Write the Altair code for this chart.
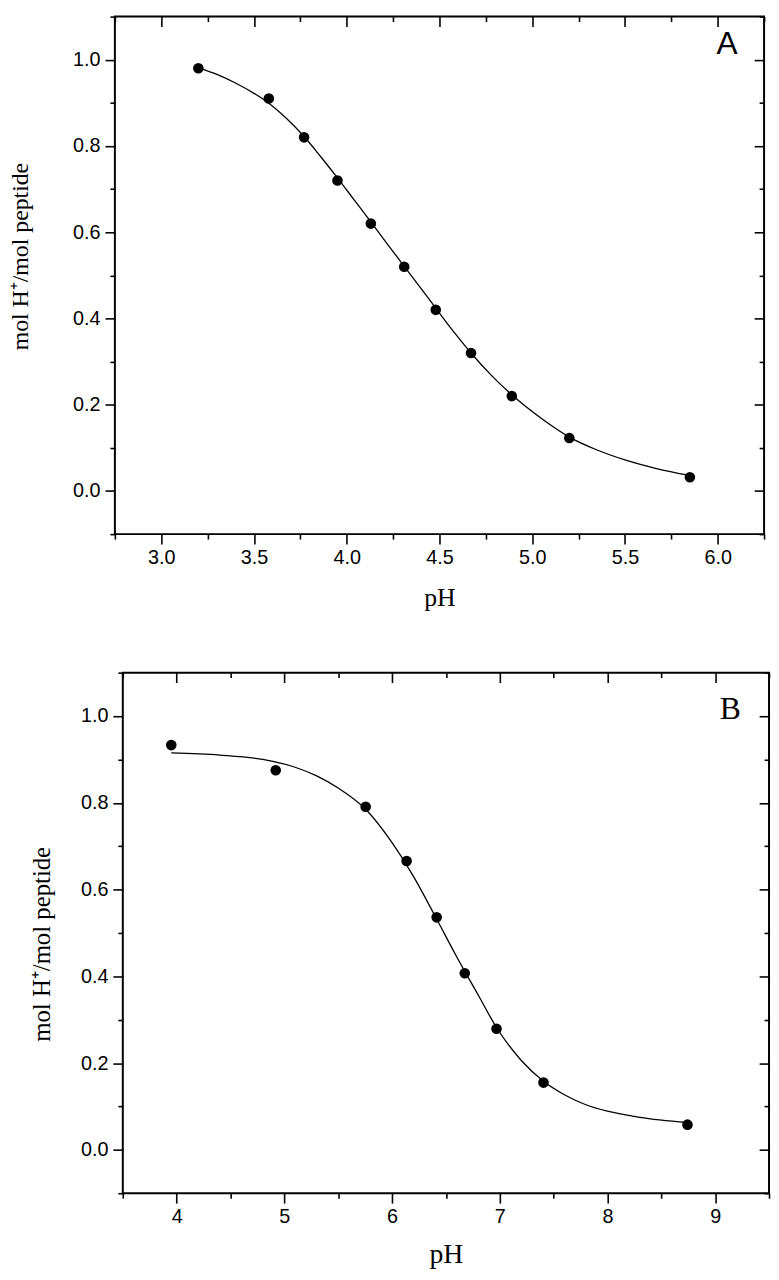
import altair as alt
import pandas as pd

# ---------------- Panel A ----------------
a_ph = [3.20, 3.58, 3.77, 3.95, 4.13, 4.31, 4.48, 4.67, 4.89, 5.20, 5.85]
a_val = [0.98, 0.91, 0.82, 0.72, 0.62, 0.52, 0.42, 0.32, 0.22, 0.123, 0.032]
a_fit_ph = [3.21, 3.30, 3.40, 3.50, 3.58, 3.67, 3.77, 3.86, 3.95, 4.04, 4.13, 4.22, 4.31,
            4.40, 4.48, 4.57, 4.67, 4.78, 4.89, 5.05, 5.20, 5.35, 5.50, 5.67, 5.85]
a_fit_val = [0.98, 0.966, 0.946, 0.922, 0.899, 0.866, 0.822, 0.775, 0.726, 0.675, 0.624,
             0.572, 0.521, 0.47, 0.424, 0.373, 0.32, 0.268, 0.223, 0.168, 0.125, 0.095,
             0.072, 0.052, 0.036]
a_x_major = [3.0, 3.5, 4.0, 4.5, 5.0, 5.5, 6.0]
a_x_minor = [2.75, 3.25, 3.75, 4.25, 4.75, 5.25, 5.75, 6.25]

# ---------------- Panel B ----------------
b_ph = [3.95, 4.92, 5.755, 6.135, 6.414, 6.675, 6.97, 7.406, 8.743]
b_val = [0.933, 0.875, 0.791, 0.666, 0.536, 0.407, 0.279, 0.155, 0.058]
b_fit_ph = [3.95, 4.40, 4.80, 5.10, 5.30, 5.50, 5.755, 6.00, 6.20, 6.414, 6.60, 6.80,
            6.97, 7.20, 7.406, 7.60, 7.80, 8.00, 8.30, 8.74]
b_fit_val = [0.915, 0.91, 0.90, 0.882, 0.862, 0.834, 0.785, 0.708, 0.63, 0.532, 0.445,
             0.357, 0.282, 0.206, 0.158, 0.127, 0.104, 0.089, 0.075, 0.063]
b_x_major = [4, 5, 6, 7, 8, 9]
b_x_minor = [3.5, 4.5, 5.5, 6.5, 7.5, 8.5, 9.5]

y_major = [0.0, 0.2, 0.4, 0.6, 0.8, 1.0]
y_minor = [-0.1, 0.1, 0.3, 0.5, 0.7, 0.9, 1.1]

YTITLE = "mol H\u207a/mol peptide"
XTITLE = "pH"


def panel(ph, val, fit_ph, fit_val, x_dom, x_major, x_minor, x_fmt,
          tag, tag_x, tag_y, tag_font, width, height,
          ytitle_x, ytitle_y, ytitle_size, xtitle_y, xtitle_size):
    pts = pd.DataFrame({"pH": ph, "v": val})
    fit = pd.DataFrame({"pH": fit_ph, "v": fit_val})
    tagdf = pd.DataFrame({"pH": [tag_x], "v": [tag_y], "t": [tag]})
    xs = alt.Scale(domain=x_dom, nice=False, zero=False)
    ys = alt.Scale(domain=[-0.1, 1.1], nice=False, zero=False)
    common = dict(domain=False, grid=False, tickColor="black", tickWidth=1.6)

    x_main = alt.Axis(orient="bottom", values=x_major, format=x_fmt, tickSize=10,
                      labelFont="Liberation Sans", labelFontSize=20, labelColor="black",
                      labelPadding=4, labelOverlap=False, labelFlush=False,
                      title=XTITLE, titleFont="Liberation Serif", titleFontSize=xtitle_size,
                      titleFontWeight="normal", titleColor="black",
                      titleY=xtitle_y, titleBaseline="middle", **common)
    y_main = alt.Axis(orient="left", values=y_major, format=".1f", tickSize=10,
                      labelFont="Liberation Sans", labelFontSize=20, labelColor="black",
                      labelPadding=5, labelOverlap=False, labelFlush=False,
                      title=YTITLE, titleFont="Liberation Serif", titleFontSize=ytitle_size,
                      titleFontWeight="normal", titleColor="black",
                      titleX=ytitle_x, titleY=ytitle_y, titleBaseline="middle",
                      titleAlign="center", titleAngle=270, **common)
    x_min_ax = alt.Axis(orient="bottom", values=x_minor, tickSize=5, labels=False,
                        title=None, **common)
    y_min_ax = alt.Axis(orient="left", values=y_minor, tickSize=5, labels=False,
                        title=None, **common)
    x_top_maj = alt.Axis(orient="top", offset=-10, values=x_major, tickSize=10,
                         labels=False, title=None, **common)
    y_rt_maj = alt.Axis(orient="right", offset=-10, values=y_major, tickSize=10,
                        labels=False, title=None, **common)
    x_top_min = alt.Axis(orient="top", offset=-5, values=x_minor, tickSize=5,
                         labels=False, title=None, **common)
    y_rt_min = alt.Axis(orient="right", offset=-5, values=y_minor, tickSize=5,
                        labels=False, title=None, **common)

    line = alt.Chart(fit).mark_line(color="black", strokeWidth=1.3,
                                    interpolate="monotone").encode(
        x=alt.X("pH:Q", scale=xs, axis=x_min_ax),
        y=alt.Y("v:Q", scale=ys, axis=y_min_ax))
    dots = alt.Chart(pts).mark_circle(size=115, color="black", opacity=1).encode(
        x=alt.X("pH:Q", scale=xs, axis=x_main),
        y=alt.Y("v:Q", scale=ys, axis=y_main))
    ghost1 = alt.Chart(pts).mark_circle(opacity=0).encode(
        x=alt.X("pH:Q", scale=xs, axis=x_top_maj),
        y=alt.Y("v:Q", scale=ys, axis=y_rt_maj))
    ghost2 = alt.Chart(pts).mark_circle(opacity=0).encode(
        x=alt.X("pH:Q", scale=xs, axis=x_top_min),
        y=alt.Y("v:Q", scale=ys, axis=y_rt_min))
    label = alt.Chart(tagdf).mark_text(font=tag_font, fontSize=32, color="black",
                                       baseline="middle", align="center").encode(
        x=alt.X("pH:Q", scale=xs, axis=None),
        y=alt.Y("v:Q", scale=ys, axis=None),
        text="t:N")
    return alt.layer(line, dots, ghost1, ghost2, label).resolve_axis(
        x="independent", y="independent").properties(width=width, height=height)


chart_a = panel(a_ph, a_val, a_fit_ph, a_fit_val, [2.75, 6.25], a_x_major, a_x_minor, ".1f",
                "A", 6.05, 1.035, "Liberation Sans", 656, 523,
                -95, 242, 24, 64, 26)
chart_b = panel(b_ph, b_val, b_fit_ph, b_fit_val, [3.5, 9.5], b_x_major, b_x_minor, "d",
                "B", 9.14, 1.017, "Liberation Serif", 653, 526,
                -82, 274, 25, 62, 28)

spacer = alt.Chart(pd.DataFrame({"s": [0]})).mark_point(opacity=0).encode(
    x=alt.X("s:Q", axis=None), y=alt.Y("s:Q", axis=None)
).properties(width=8, height=1, view=alt.ViewBackground(stroke="transparent"))

row_b = alt.hconcat(spacer, chart_b, spacing=0, bounds="flush")

chart = alt.vconcat(chart_a, row_b, spacing=58).properties(
    padding={"left": 0, "top": 0, "right": 0, "bottom": 0},
    background="white",
).configure_view(stroke="black", strokeWidth=2)

chart.save("out.html", embed_options={"renderer": "svg", "actions": False})
